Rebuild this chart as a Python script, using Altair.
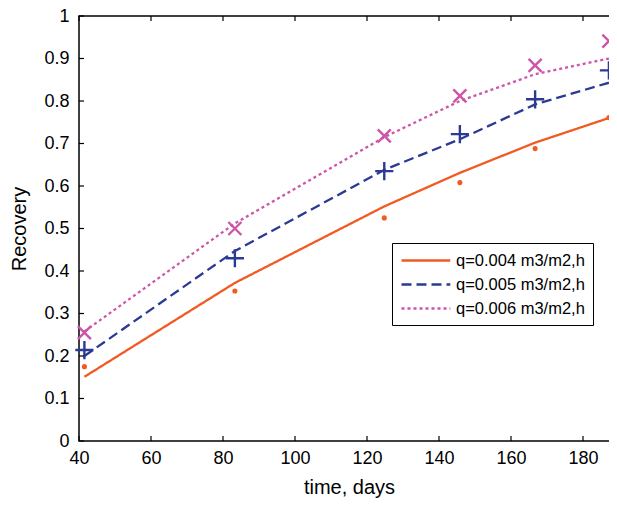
import altair as alt
import pandas as pd

# ---- data ----
days = [41.5, 83.3, 124.8, 145.8, 166.7, 187.2]
series = ["q=0.004 m3/m2,h", "q=0.005 m3/m2,h", "q=0.006 m3/m2,h"]

obs_004 = [0.175, 0.353, 0.525, 0.608, 0.688, 0.761]
obs_005 = [0.214, 0.430, 0.635, 0.722, 0.804, 0.872]
obs_006 = [0.255, 0.500, 0.718, 0.812, 0.884, 0.941]

fit_004 = [0.151, 0.372, 0.552, 0.631, 0.702, 0.760]
fit_005 = [0.200, 0.447, 0.638, 0.710, 0.792, 0.843]
fit_006 = [0.258, 0.512, 0.715, 0.800, 0.863, 0.900]

x_ticks = [40, 60, 80, 100, 120, 140, 160, 180]
y_ticks = [0, 0.1, 0.2, 0.3, 0.4, 0.5, 0.6, 0.7, 0.8, 0.9, 1.0]

colors = ["#F15A22", "#2B3A93", "#CC55AA"]
dashes = [[1, 0], [10, 5], [3, 3]]

FONT = "Liberation Sans"
X_TITLE = "time, days"
Y_TITLE = "Recovery"

fit_rows = []
for s, vals in zip(series, [fit_004, fit_005, fit_006]):
    for d, v in zip(days, vals):
        fit_rows.append({"days": d, "recovery": v, "series": s})
fit_df = pd.DataFrame(fit_rows)

def obs_df(vals, s):
    return pd.DataFrame({"days": days, "recovery": vals, "series": s})

x_scale = alt.Scale(domain=[40, 190], nice=False, zero=False)
y_scale = alt.Scale(domain=[0, 1], nice=False, zero=False)

legend_kw = dict(
    title=None,
    orient="none",
    legendX=313,
    legendY=227,
    symbolType="M-1,0L5.1,0",
    symbolSize=256,
    symbolStrokeWidth=2.3,
    labelOffset=37,
    labelFont=FONT,
    labelFontSize=16.5,
    labelColor="black",
    rowPadding=6,
    padding=8,
    strokeColor="black",
    fillColor="white",
)

lines = alt.Chart(fit_df).mark_line(strokeWidth=2.3).encode(
    x=alt.X("days:Q", scale=x_scale, title=X_TITLE,
            axis=alt.Axis(values=x_ticks, ticks=False, labelFlush=False,
                          domain=False, grid=False, labelPadding=8,
                          titlePadding=10)),
    y=alt.Y("recovery:Q", scale=y_scale, title=Y_TITLE,
            axis=alt.Axis(values=y_ticks, format=".1~f", labelFlush=False,
                          ticks=False, domain=False, grid=False,
                          labelPadding=10, titlePadding=14)),
    color=alt.Color("series:N", scale=alt.Scale(domain=series, range=colors),
                    legend=alt.Legend(**legend_kw)),
    strokeDash=alt.StrokeDash("series:N",
                              scale=alt.Scale(domain=series, range=dashes),
                              legend=alt.Legend(**legend_kw)),
    order=alt.Order("days:Q"),
)

def pts(vals, s, **mk):
    return alt.Chart(obs_df(vals, s)).mark_point(opacity=1, **mk).encode(
        x=alt.X("days:Q", title=X_TITLE),
        y=alt.Y("recovery:Q", title=Y_TITLE),
    )

pts_004 = pts(obs_004, series[0], shape="circle", filled=True, size=26,
              color=colors[0])
pts_005 = pts(obs_005, series[1], shape="M-1,0L1,0M0,-1L0,1", filled=False,
              size=330, strokeWidth=2.4, color=colors[1])
pts_006 = pts(obs_006, series[2], shape="M-1,-1L1,1M-1,1L1,-1", filled=False,
              size=170, strokeWidth=2.4, color=colors[2])

xt = pd.DataFrame({"t": x_ticks})
yt = pd.DataFrame({"t": y_ticks})
tick_kw = dict(color="black", thickness=1.2, size=5, opacity=1)

tick_bottom = alt.Chart(xt).mark_tick(orient="vertical", yOffset=-2.5, **tick_kw).encode(
    x=alt.X("t:Q", title=X_TITLE), y=alt.datum(0))
tick_top = alt.Chart(xt).mark_tick(orient="vertical", yOffset=2.5, **tick_kw).encode(
    x=alt.X("t:Q", title=X_TITLE), y=alt.datum(1))
tick_left = alt.Chart(yt).mark_tick(orient="horizontal", xOffset=2.5, **tick_kw).encode(
    y=alt.Y("t:Q", title=Y_TITLE), x=alt.datum(40))
tick_right = alt.Chart(yt).mark_tick(orient="horizontal", xOffset=-2.5, **tick_kw).encode(
    y=alt.Y("t:Q", title=Y_TITLE), x=alt.datum(190))

chart = alt.layer(
    lines, pts_004, pts_005, pts_006,
    tick_bottom, tick_top, tick_left, tick_right,
).properties(
    width=540,
    height=425,
    autosize=alt.AutoSizeParams(type="none"),
    padding={"left": 71, "top": 8, "right": -10, "bottom": 58},
    background="white",
).configure_view(
    stroke="black", strokeWidth=1.5
).configure_axis(
    labelFont=FONT, labelFontSize=18, labelColor="black",
    titleFont=FONT, titleFontSize=20, titleFontWeight="normal", titleColor="black",
)

chart.save("out.html", embed_options={"renderer": "svg", "actions": False})
